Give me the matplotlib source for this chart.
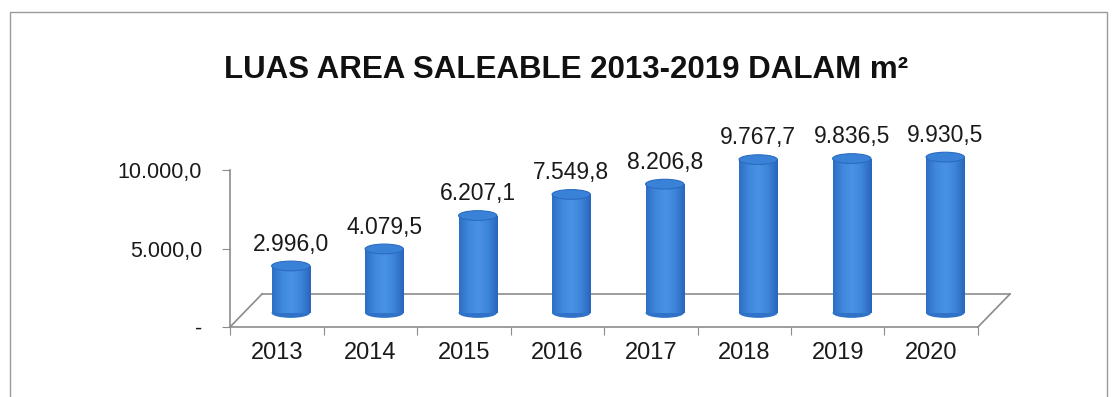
import matplotlib.pyplot as plt
import matplotlib.transforms as mtransforms
from matplotlib.patches import Ellipse, Rectangle
from matplotlib.colors import LinearSegmentedColormap
import numpy as np

plt.rcParams['font.family'] = ['Liberation Sans', 'DejaVu Sans']

# data
years = ['2013', '2014', '2015', '2016', '2017', '2018', '2019', '2020']
luas = [2996.0, 4079.5, 6207.1, 7549.8, 8206.8, 9767.7, 9836.5, 9930.5]
labels = ['2.996,0', '4.079,5', '6.207,1', '7.549,8', '8.206,8', '9.767,7', '9.836,5', '9.930,5']
yticks = [0, 5000, 10000]
ytick_labels = ['-', '5.000,0', '10.000,0']

W, H = 1114, 397
fig = plt.figure(figsize=(W / 100, H / 100), dpi=100)
ax = fig.add_axes([230 / W, 70 / H, 748 / W, 157 / H])
ax.set_xlim(-0.5, len(years) - 0.5)
ax.set_ylim(0, 10000)

# outer frame
fig.patches.append(Rectangle((10 / W, -0.01), 1097 / W, 1 - 12 / H + 0.01,
                             transform=fig.transFigure, fill=False,
                             edgecolor='#9a9a9a', linewidth=1.0))

fig.text(566 / W, 1 - 70 / H, 'LUAS AREA SALEABLE 2013-2019 DALAM m²',
         ha='center', va='center', fontsize=22.5, fontweight='bold', color='#111111')

# depth offsets (pixels) for the 3D look
def shift(px_x, px_y):
    return ax.transData + mtransforms.ScaledTranslation(px_x / 100, px_y / 100, fig.dpi_scale_trans)

floor_col = '#8c8c8c'
back = shift(32, 33)
x0, x1 = -0.5, len(years) - 0.5
ax.plot([x0, x1], [0, 0], color=floor_col, lw=1.2, transform=back, clip_on=False)
for xx in (x0, x1):
    pts = np.array([[xx, 0]])
    p0 = ax.transData.transform(pts)[0]
    p1 = back.transform(pts)[0]
    fig.add_artist(plt.Line2D([p0[0] / W, p1[0] / W], [p0[1] / H, p1[1] / H],
                              color=floor_col, lw=1.2, transform=fig.transFigure))

# cylinders
mid = shift(14, 14)
bw = 0.41
cap_h = 620
cmap = LinearSegmentedColormap.from_list('cyl', ['#2c6fc4', '#3f88dc', '#4a92e4', '#3d85d9', '#2966bb'])
grad = np.linspace(0, 1, 64).reshape(1, -1)
for i, v in enumerate(luas):
    ax.add_patch(Ellipse((i, 0), bw, cap_h, facecolor='#2f72c8', edgecolor='none',
                         transform=mid, clip_on=False, zorder=2))
    body = Rectangle((i - bw / 2, 0), bw, v, facecolor='#3f86da', edgecolor='none',
                     transform=mid, clip_on=False, zorder=3)
    ax.add_patch(body)
    im = ax.imshow(grad, cmap=cmap, aspect='auto', extent=(i - bw / 2, i + bw / 2, 0, v),
                   transform=mid, zorder=3)
    im.set_clip_path(body)
    ax.add_patch(Ellipse((i, v), bw, cap_h, facecolor='#3a82d8', edgecolor='#2a6cc2', lw=0.8,
                         transform=mid, clip_on=False, zorder=4))
    ax.text(i, v + cap_h / 2 + 350, labels[i], ha='center', va='bottom', fontsize=16.5,
            color='#1a1a1a', transform=mid, clip_on=False)

ax.set_xlim(-0.5, len(years) - 0.5)
ax.set_ylim(0, 10000)

# axes styling
for s in ('top', 'right'):
    ax.spines[s].set_visible(False)
for s in ('left', 'bottom'):
    ax.spines[s].set_color(floor_col)
    ax.spines[s].set_linewidth(1.2)
ax.set_yticks(yticks)
ax.set_yticklabels(ytick_labels)
ax.set_xticks(np.arange(-0.5, len(years)), minor=False)
ax.set_xticklabels([''] * (len(years) + 1))
ax.set_xticks(np.arange(len(years)), minor=True)
ax.set_xticklabels(years, minor=True)
ax.tick_params(axis='x', which='major', length=6, color=floor_col)
ax.tick_params(axis='x', which='minor', length=0, pad=11, labelsize=17, labelcolor='#1a1a1a')
ax.tick_params(axis='y', length=6, color=floor_col, pad=14, labelsize=15.5, labelcolor='#1a1a1a')
ax.patch.set_alpha(0)

fig.savefig('out.png', dpi=100)
